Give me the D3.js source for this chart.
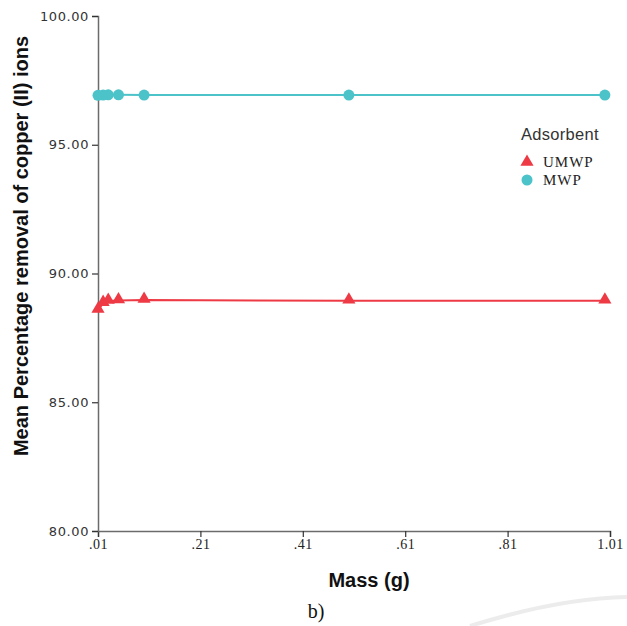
<!DOCTYPE html>
<html>
<head>
<meta charset="utf-8">
<script src="https://cdn.jsdelivr.net/npm/d3@7"></script>
<style>
  html, body { margin: 0; padding: 0; background: #fff; }
  svg { display: block; }
</style>
</head>
<body>
<svg id="chart" width="627" height="626"></svg>
<script>
// ---- Data ----
const mass = [0.01, 0.02, 0.03, 0.05, 0.1, 0.5, 1.0];
const umwp = [88.58, 88.85, 88.93, 88.95, 88.97, 88.94, 88.94];
const mwp  = [96.92, 96.93, 96.94, 96.94, 96.93, 96.93, 96.93];
const seriesNames = ["UMWP", "MWP"];
const xTicks = [0.01, 0.21, 0.41, 0.61, 0.81, 1.01];
const xTickLabels = [".01", ".21", ".41", ".61", ".81", "1.01"];
const yTicks = [80, 85, 90, 95, 100];
const yTickLabels = ["80.00", "85.00", "90.00", "95.00", "100.00"];

const svg = d3.select("#chart");
const plotLeft = 98, plotRight = 610, plotTop = 16, plotBottom = 531;

const x = d3.scaleLinear().domain([0.01, 1.01]).range([plotLeft, plotRight]);
const y = d3.scaleLinear().domain([80, 100]).range([plotBottom, plotTop]);

// faint watermark arc at bottom right
svg.append("path")
  .attr("d", "M 470 626 Q 560 598 627 597")
  .attr("fill", "none")
  .attr("stroke", "#ececec")
  .attr("stroke-width", 4);

// axes
const xAxis = d3.axisBottom(x).tickValues(xTicks)
  .tickFormat((d, i) => xTickLabels[i]).tickSizeOuter(0).tickSize(6).tickPadding(2);
const gx = svg.append("g").attr("transform", `translate(0,${plotBottom})`).call(xAxis);
gx.select(".domain").attr("stroke", "#6b6b6b").attr("stroke-width", 1.5);
gx.selectAll(".tick line").attr("stroke", "#333").attr("stroke-width", 1.2);
gx.selectAll(".tick text")
  .attr("font-family", "Liberation Serif, Times New Roman, serif")
  .attr("font-size", 14).attr("letter-spacing", 0.5).attr("fill", "#222");

const yAxis = d3.axisLeft(y).tickValues(yTicks)
  .tickFormat((d, i) => yTickLabels[i]).tickSizeOuter(0).tickSize(6).tickPadding(3);
const gy = svg.append("g").attr("transform", `translate(${plotLeft},0)`).call(yAxis);
gy.select(".domain").attr("stroke", "#6b6b6b").attr("stroke-width", 1.5);
gy.selectAll(".tick line").attr("stroke", "#333").attr("stroke-width", 1.2);
gy.selectAll(".tick text")
  .attr("font-family", "DejaVu Sans, Verdana, sans-serif")
  .attr("font-size", 13).attr("letter-spacing", 0.6).attr("fill", "#333");

// series
const colors = { UMWP: "#ee3a45", MWP: "#4cc3c8" };
const data = { UMWP: umwp, MWP: mwp };
const line = d3.line().x(d => x(d[0])).y(d => y(d[1]));

seriesNames.forEach(name => {
  const pts = mass.map((m, i) => [m, data[name][i]]);
  svg.append("path")
    .datum(pts)
    .attr("d", line)
    .attr("fill", "none")
    .attr("stroke", colors[name])
    .attr("stroke-width", 2);
  const sym = d3.symbol()
    .type(name === "UMWP" ? d3.symbolTriangle : d3.symbolCircle)
    .size(name === "UMWP" ? 75 : 95);
  svg.append("g").selectAll("path")
    .data(pts).join("path")
    .attr("d", sym)
    .attr("transform", d => `translate(${x(d[0])},${y(d[1]) + (name === "UMWP" ? -1 : 0)})`)
    .attr("fill", colors[name]);
});

// axis titles
svg.append("text")
  .attr("x", 369).attr("y", 587)
  .attr("text-anchor", "middle")
  .attr("font-family", "Liberation Sans, Arial, sans-serif")
  .attr("font-weight", "bold").attr("font-size", 20).attr("fill", "#111")
  .text("Mass (g)");

svg.append("text")
  .attr("transform", "translate(28,246) rotate(-90)")
  .attr("text-anchor", "middle")
  .attr("font-family", "Liberation Sans, Arial, sans-serif")
  .attr("font-weight", "bold").attr("font-size", 20).attr("fill", "#111")
  .text("Mean Percentage removal of copper (II) ions");

// legend
svg.append("text")
  .attr("x", 521).attr("y", 140)
  .attr("font-family", "Liberation Sans, Arial, sans-serif")
  .attr("font-size", 16.5).attr("letter-spacing", 0.3).attr("fill", "#333")
  .text("Adsorbent");

const legendRows = [
  { name: "UMWP", cy: 162 },
  { name: "MWP", cy: 180 }
];
legendRows.forEach(r => {
  svg.append("path")
    .attr("d", d3.symbol().type(r.name === "UMWP" ? d3.symbolTriangle : d3.symbolCircle)
      .size(r.name === "UMWP" ? 75 : 95))
    .attr("transform", `translate(527,${r.cy})`)
    .attr("fill", colors[r.name]);
  svg.append("text")
    .attr("x", 543).attr("y", r.cy + 5)
    .attr("font-family", "Liberation Serif, Times New Roman, serif")
    .attr("font-size", 15).attr("letter-spacing", 1).attr("fill", "#222")
    .text(r.name);
});

// caption
svg.append("text")
  .attr("x", 316).attr("y", 618)
  .attr("text-anchor", "middle")
  .attr("font-family", "Liberation Serif, Times New Roman, serif")
  .attr("font-size", 20).attr("fill", "#111")
  .text("b)");
</script>
</body>
</html>
